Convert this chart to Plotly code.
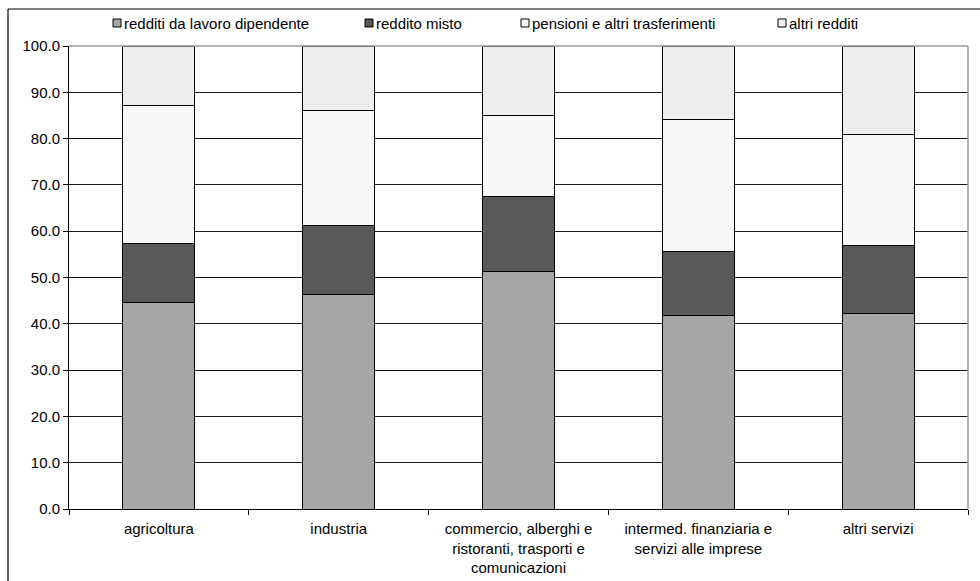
import plotly.graph_objects as go

# Sectors (x-axis categories)
categories = [
    "agricoltura",
    "industria",
    "commercio, alberghi e<br>ristoranti, trasporti e<br>comunicazioni",
    "intermed. finanziaria e<br>servizi alle imprese",
    "altri servizi",
]

# Income composition by sector (percent shares)
redditi_dipendente = [44.7, 46.3, 51.2, 41.8, 42.3]
reddito_misto = [12.7, 14.9, 16.3, 13.8, 14.7]
pensioni_trasferimenti = [29.7, 24.8, 17.4, 28.5, 23.8]
altri_redditi = [12.9, 14.0, 15.1, 15.9, 19.2]

series_names = [
    "redditi da lavoro dipendente",
    "reddito misto",
    "pensioni e altri trasferimenti",
    "altri redditi",
]
series_values = [redditi_dipendente, reddito_misto, pensioni_trasferimenti, altri_redditi]
series_colors = ["#A6A6A6", "#595959", "#F8F8F8", "#EEEEEE"]

y_ticks = [0, 10, 20, 30, 40, 50, 60, 70, 80, 90, 100]

FONT = "Liberation Sans, Arial, sans-serif"
FS = 15

fig = go.Figure()
for name, vals, col in zip(series_names, series_values, series_colors):
    fig.add_trace(go.Bar(
        x=categories, y=vals, name=name,
        marker=dict(color=col, line=dict(color="#000000", width=1)),
        width=0.4, showlegend=False,
    ))

W, H = 980, 581
L, R, T, B = 69, 12, 46, 72
pw, ph = W - L - R, H - T - B


def px_x(x):
    return (x - L) / pw


def px_y(y):
    return (H - B - y) / ph


shapes = []
annotations = []

# outer chart frame (left and top edges visible)
shapes.append(dict(type="line", xref="paper", yref="paper",
                   x0=px_x(8), x1=px_x(8), y0=px_y(9), y1=px_y(600),
                   line=dict(color="#000000", width=1.2), layer="above"))
shapes.append(dict(type="line", xref="paper", yref="paper",
                   x0=px_x(8), x1=px_x(1000), y0=px_y(9), y1=px_y(9),
                   line=dict(color="#000000", width=1.2), layer="above"))
# plot area border (top and right)
shapes.append(dict(type="line", xref="paper", yref="paper", x0=0, x1=1, y0=1, y1=1,
                   line=dict(color="#9A9A9A", width=1.5), layer="above"))
shapes.append(dict(type="line", xref="paper", yref="paper", x0=1, x1=1, y0=0, y1=1,
                   line=dict(color="#9A9A9A", width=1.5), layer="above"))

# legend row
legend_x = [113, 365, 521, 778]
legend_y = 23
for lx, name, col in zip(legend_x, series_names, series_colors):
    shapes.append(dict(type="rect", xref="paper", yref="paper",
                       x0=px_x(lx), x1=px_x(lx + 8), y0=px_y(legend_y - 4), y1=px_y(legend_y + 4),
                       fillcolor=col, line=dict(color="#000000", width=1)))
    annotations.append(dict(text=name, xref="paper", yref="paper",
                            x=px_x(lx + 9), y=px_y(legend_y), xanchor="left", yanchor="middle",
                            showarrow=False, font=dict(size=FS, color="#000000", family=FONT)))

fig.update_layout(
    width=W, height=H,
    margin=dict(l=L, r=R, t=T, b=B, pad=0),
    barmode="stack",
    paper_bgcolor="#FFFFFF", plot_bgcolor="#FFFFFF",
    font=dict(family=FONT, size=FS, color="#000000"),
    showlegend=False,
    shapes=shapes,
    annotations=annotations,
    xaxis=dict(
        automargin=False,
        showgrid=False, showline=True, linecolor="#000000", linewidth=1,
        ticks="outside", tickson="boundaries", ticklen=5, tickcolor="#000000",
        ticklabelstandoff=6,
        tickfont=dict(size=FS, color="#000000"), fixedrange=True,
    ),
    yaxis=dict(
        automargin=False,
        range=[0, 100], tickvals=y_ticks, tickformat=".1f",
        showgrid=True, gridcolor="#1A1A1A", gridwidth=1,
        showline=True, linecolor="#000000", linewidth=1,
        ticks="outside", ticklen=5, tickcolor="#000000",
        tickfont=dict(size=FS, color="#000000"), zeroline=False,
    ),
)

fig.write_html("out.html")
